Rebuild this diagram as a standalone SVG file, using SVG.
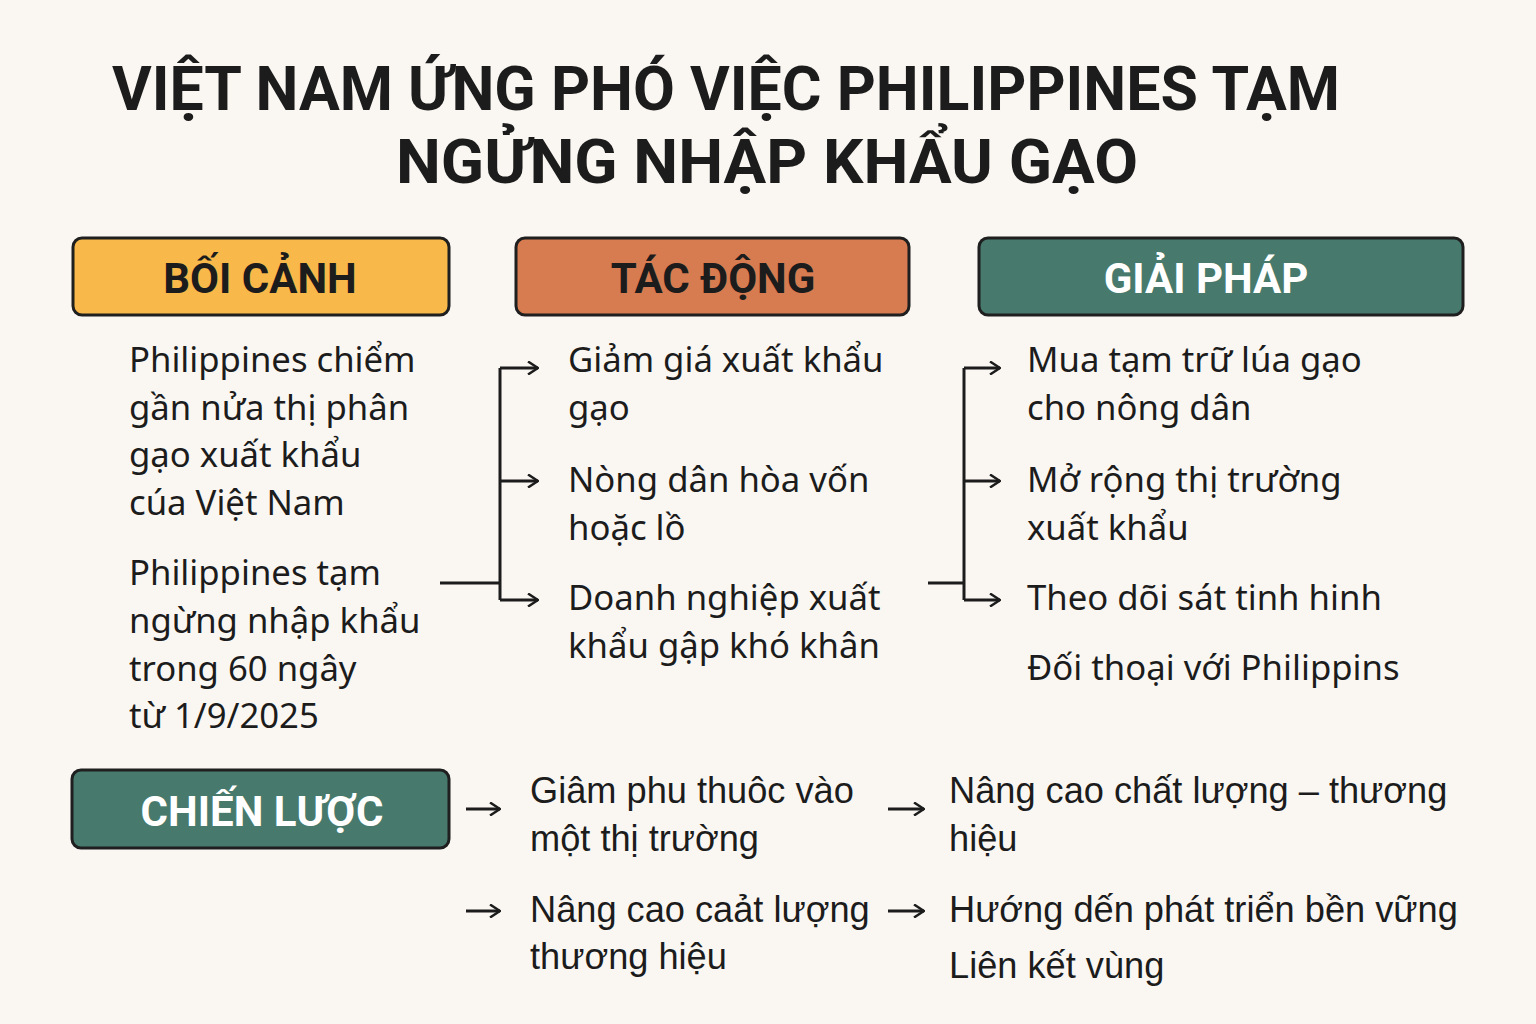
<svg xmlns="http://www.w3.org/2000/svg" width="1536" height="1024" viewBox="0 0 1536 1024">
<defs>
<style>
.bg{fill:#FAF7F3}
.title{font-family:Roboto,"Liberation Sans",sans-serif;font-weight:700;font-size:62px;fill:#1c1c1c}
.hbox{stroke:#1f1f1f;stroke-width:3}
.htext{font-family:Roboto,"Liberation Sans",sans-serif;font-weight:700;font-size:42px;text-anchor:middle}
.dark{fill:#1c1c1c}
.light{fill:#ffffff}
.body{font-family:"Noto Sans","Liberation Sans",sans-serif;font-size:34.7px;fill:#1c1c1c}
.body2{font-family:"Liberation Sans",Arial,sans-serif;font-size:36.2px;fill:#1c1c1c}
.conn{fill:none;stroke:#1c1c1c;stroke-width:3}
</style>
<marker id="arr" viewBox="0 0 12 14" refX="11" refY="7" markerWidth="12" markerHeight="14" markerUnits="userSpaceOnUse" orient="auto">
<path d="M1,0.5 L11,7 L1,13.5" fill="none" stroke="#1c1c1c" stroke-width="2.5"/>
</marker>
</defs>
<rect class="bg" x="0" y="0" width="1536" height="1024"/>

<g id="title">
<text class="title" x="112" y="110" textLength="1228" lengthAdjust="spacingAndGlyphs">VIỆT NAM ỨNG PHÓ VIỆC PHILIPPINES TẠM</text>
<text class="title" x="396" y="183" textLength="742" lengthAdjust="spacingAndGlyphs">NGỬNG NHẬP KHẨU GẠO</text>
</g>

<g id="node-boi-canh">
<rect class="hbox" x="73" y="238" width="376" height="77" rx="9" fill="#F9B84A"/>
<text class="htext dark" x="260" y="293">BỐI CẢNH</text>
</g>
<g id="node-tac-dong">
<rect class="hbox" x="516" y="238" width="393" height="77" rx="9" fill="#D77B50"/>
<text class="htext dark" x="713" y="293">TÁC ĐỘNG</text>
</g>
<g id="node-giai-phap">
<rect class="hbox" x="979" y="238" width="484" height="77" rx="9" fill="#477A6C"/>
<text class="htext light" x="1206" y="293">GIẢI PHÁP</text>
</g>
<g id="node-chien-luoc">
<rect class="hbox" x="72" y="770" width="377" height="78" rx="9" fill="#477A6C"/>
<text class="htext light" x="262" y="826">CHIẾN LƯỢC</text>
</g>

<g id="node-context">
<text class="body" x="129" y="372">Philippines chiểm</text>
<text class="body" x="129" y="420">gần nửa thị phân</text>
<text class="body" x="129" y="467">gạo xuất khẩu</text>
<text class="body" x="129" y="515">cúa Việt Nam</text>
<text class="body" x="129" y="585">Philippines tạm</text>
<text class="body" x="129" y="633">ngừng nhập khẩu</text>
<text class="body" x="129" y="681">trong 60 ngây</text>
<text class="body" x="129" y="728">từ 1/9/2025</text>
</g>

<g id="node-impact-1">
<text class="body" x="568" y="372">Giảm giá xuất khẩu</text>
<text class="body" x="568" y="420">gạo</text>
</g>
<g id="node-impact-2">
<text class="body" x="568" y="492">Nòng dân hòa vốn</text>
<text class="body" x="568" y="540">hoặc lồ</text>
</g>
<g id="node-impact-3">
<text class="body" x="568" y="610">Doanh nghiệp xuất</text>
<text class="body" x="568" y="658">khẩu gập khó khân</text>
</g>

<g id="node-solution-1">
<text class="body" x="1027" y="372">Mua tạm trữ lúa gạo</text>
<text class="body" x="1027" y="420">cho nông dân</text>
</g>
<g id="node-solution-2">
<text class="body" x="1027" y="492">Mở rộng thị trường</text>
<text class="body" x="1027" y="540">xuất khẩu</text>
</g>
<g id="node-solution-3">
<text class="body" x="1027" y="610">Theo dõi sát tinh hinh</text>
</g>
<g id="node-solution-4">
<text class="body" x="1027" y="680">Đối thoại với Philippins</text>
</g>

<g id="node-strategy-1">
<text class="body2" x="530" y="803">Giâm phu thuôc vào</text>
<text class="body2" x="530" y="851">một thị trường</text>
</g>
<g id="node-strategy-2">
<text class="body2" x="949" y="803">Nâng cao chất lượng – thương</text>
<text class="body2" x="949" y="851">hiệu</text>
</g>
<g id="node-strategy-3">
<text class="body2" x="530" y="922">Nâng cao caảt lượng</text>
<text class="body2" x="530" y="969">thương hiệu</text>
</g>
<g id="node-strategy-4">
<text class="body2" x="949" y="922">Hướng dến phát triển bền vững</text>
<text class="body2" x="949" y="978">Liên kết vùng</text>
</g>

<g id="connectors">
<path class="conn" d="M440,583 H500"/>
<path class="conn" d="M500,368 V600"/>
<path class="conn" d="M500,368 H538" marker-end="url(#arr)"/>
<path class="conn" d="M500,481 H538" marker-end="url(#arr)"/>
<path class="conn" d="M500,600 H538" marker-end="url(#arr)"/>
<path class="conn" d="M928,583 H964"/>
<path class="conn" d="M964,368 V600"/>
<path class="conn" d="M964,368 H1000" marker-end="url(#arr)"/>
<path class="conn" d="M964,481 H1000" marker-end="url(#arr)"/>
<path class="conn" d="M964,600 H1000" marker-end="url(#arr)"/>
<path class="conn" d="M466,809 H500" marker-end="url(#arr)"/>
<path class="conn" d="M466,911 H500" marker-end="url(#arr)"/>
<path class="conn" d="M888,809 H924" marker-end="url(#arr)"/>
<path class="conn" d="M888,911 H924" marker-end="url(#arr)"/>
</g>
</svg>
